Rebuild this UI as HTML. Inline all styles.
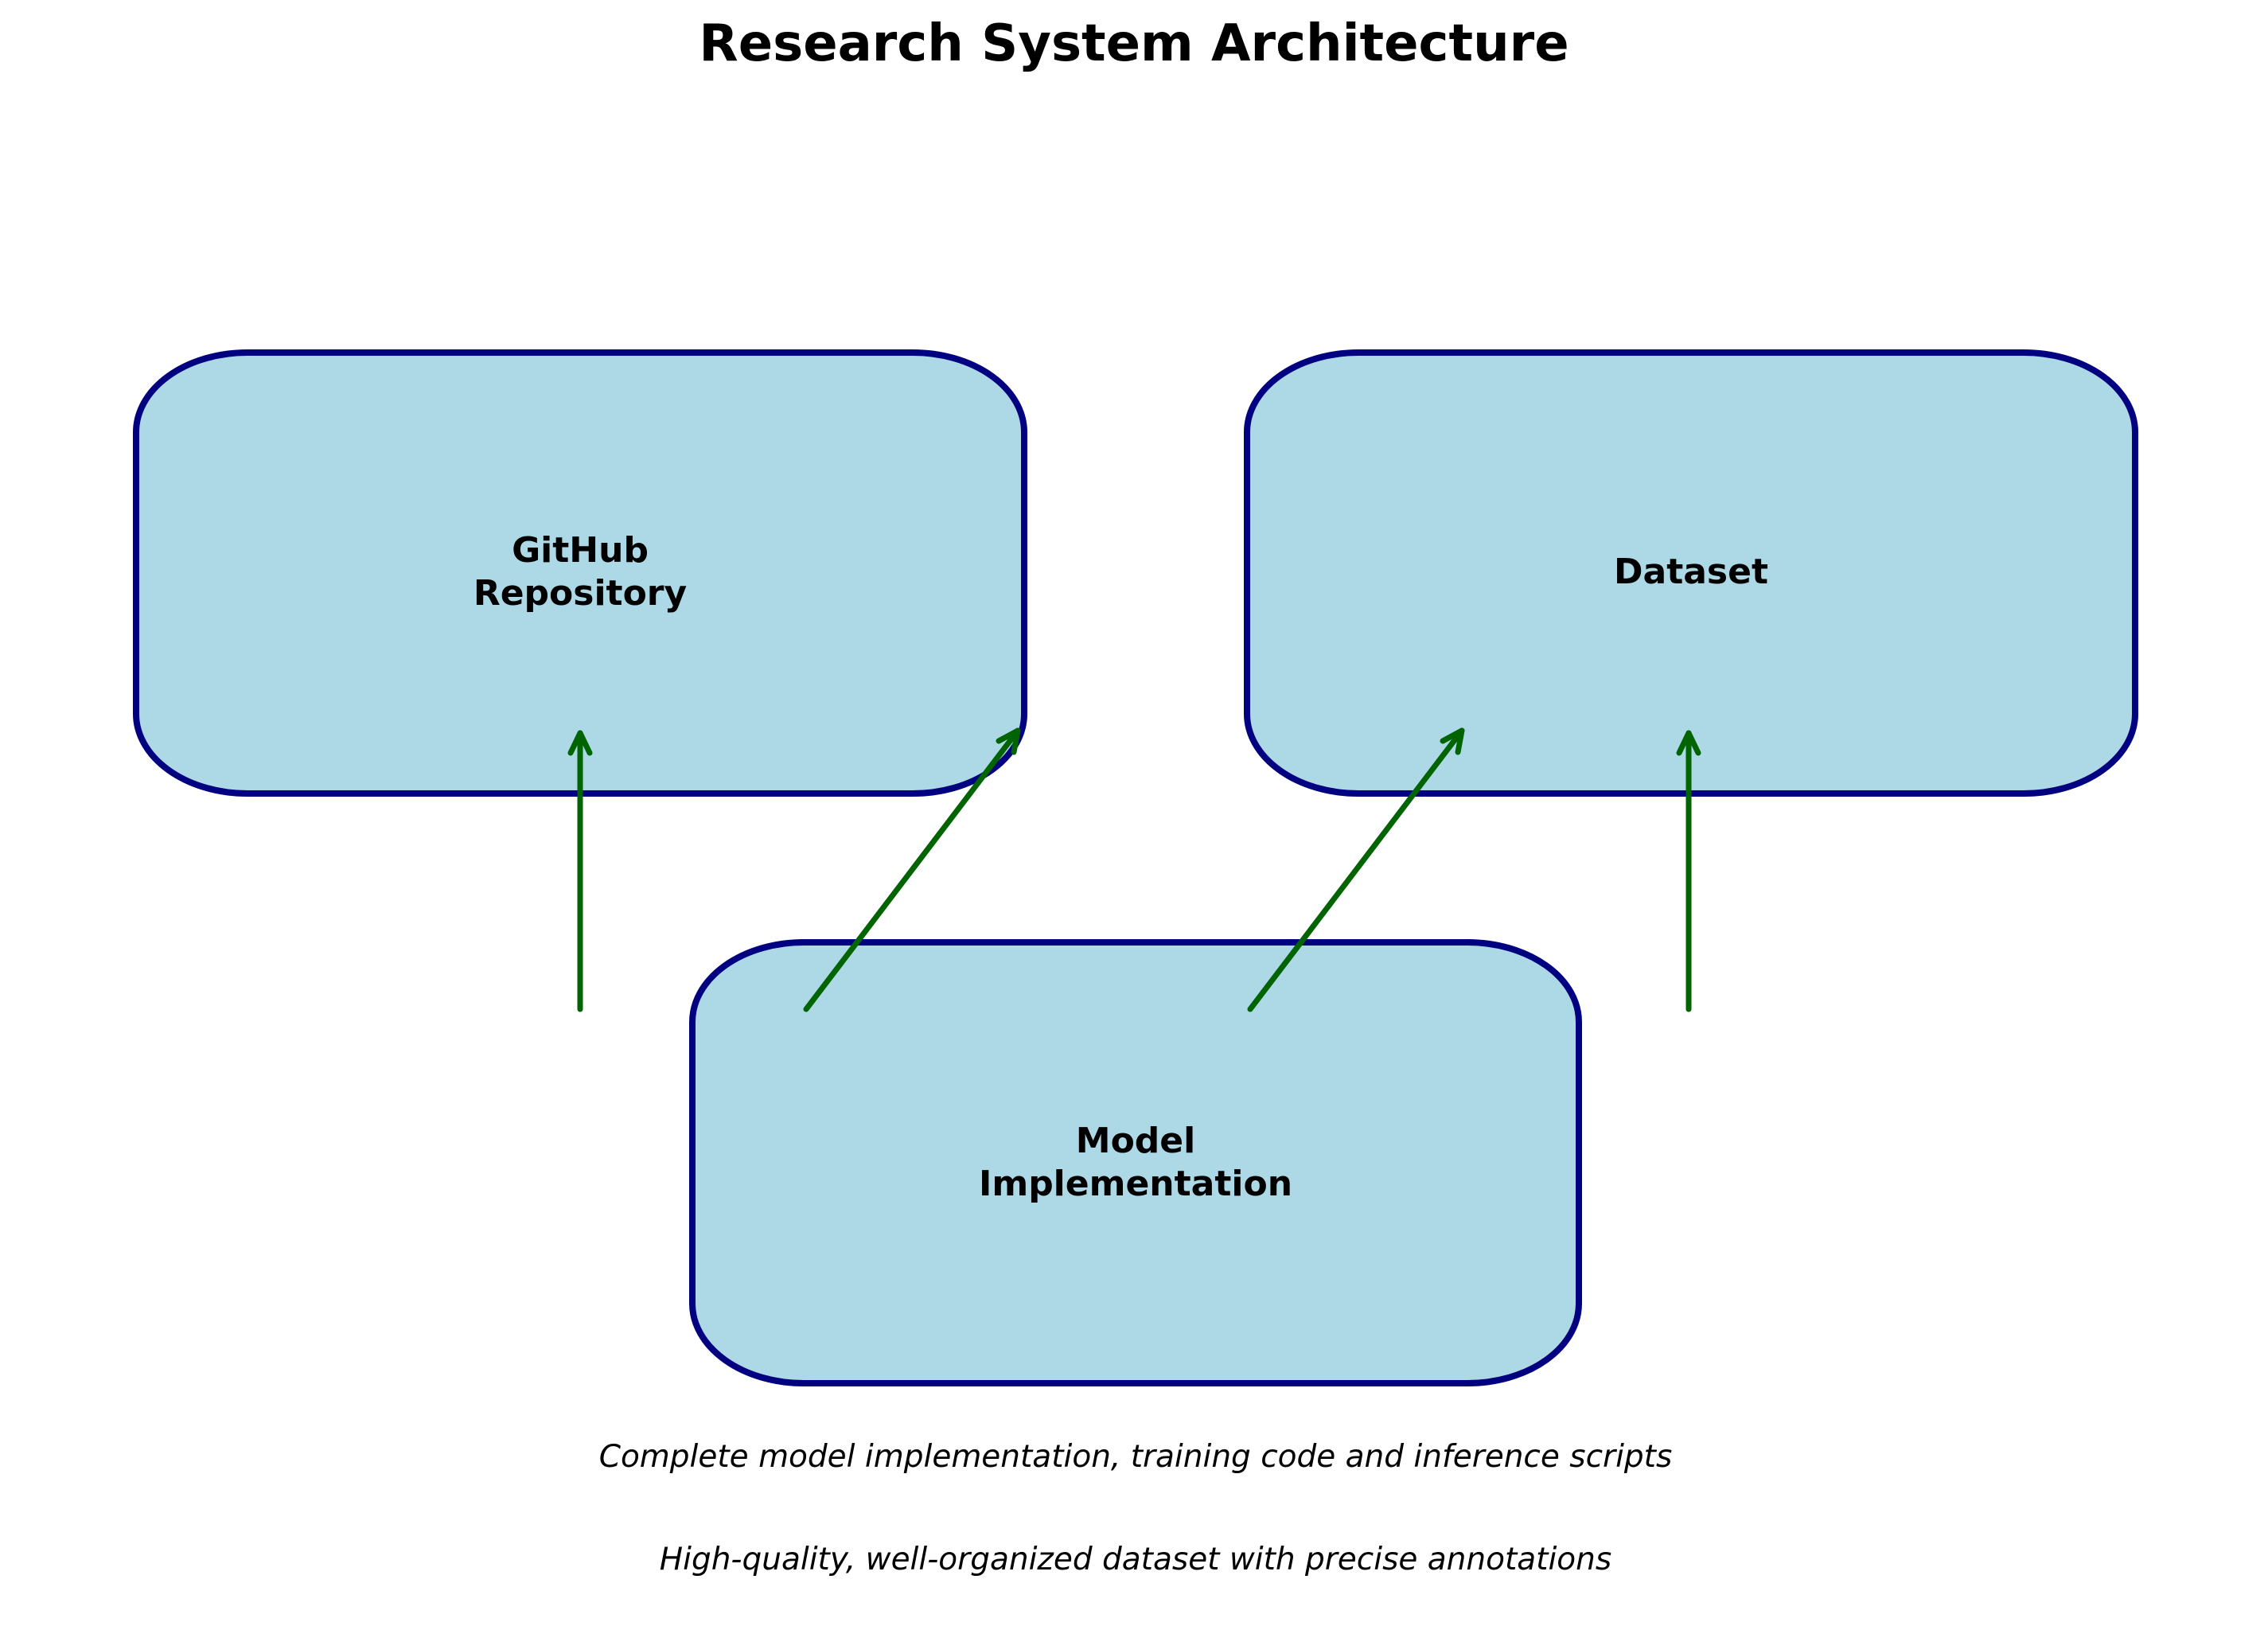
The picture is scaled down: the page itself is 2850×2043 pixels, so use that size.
<!DOCTYPE html>
<html><head><meta charset="utf-8"><style>html,body{margin:0;padding:0;background:#fff}</style></head>
<body>
<svg width="2850" height="2043" viewBox="0 0 2850 2043" xmlns="http://www.w3.org/2000/svg" style="display:block">
<rect width="2850" height="2043" fill="#fff"/>
<g fill="#ADD8E6" stroke="#000080" stroke-width="8">
<rect x="171" y="443" width="1116" height="554" rx="140" ry="100"/>
<rect x="1567" y="443" width="1116" height="554" rx="140" ry="100"/>
<rect x="870" y="1184" width="1114" height="554" rx="140" ry="100"/>
</g>
<g font-family="'DejaVu Sans','Liberation Sans',sans-serif" font-weight="bold" font-size="44" text-anchor="middle" fill="#000">
<text x="1425" y="76" font-size="64">Research System Architecture</text>
<text x="729" y="706">GitHub</text>
<text x="729" y="760">Repository</text>
<text x="2125" y="733">Dataset</text>
<text x="1427" y="1448">Model</text>
<text x="1427" y="1502">Implementation</text>
</g>
<g font-family="'DejaVu Sans','Liberation Sans',sans-serif" font-style="italic" font-size="39" text-anchor="middle" fill="#000">
<text x="1427" y="1843">Complete model implementation, training code and inference scripts</text>
<text x="1427" y="1972">High-quality, well-organized dataset with precise annotations</text>
</g>
<g stroke="#006400" stroke-width="7" stroke-linecap="round" stroke-linejoin="round" fill="none">
<path d="M729 1268 L729 921"/><path d="M717 946 L729 921 L741 946"/>
<path d="M1013 1268 L1279 918"/><path d="M1255 931 L1279 918 L1274 945"/>
<path d="M1571 1268 L1837 918"/><path d="M1813 931 L1837 918 L1832 945"/>
<path d="M2122 1268 L2122 921"/><path d="M2110 946 L2122 921 L2134 946"/>
</g>
</svg>
</body></html>
